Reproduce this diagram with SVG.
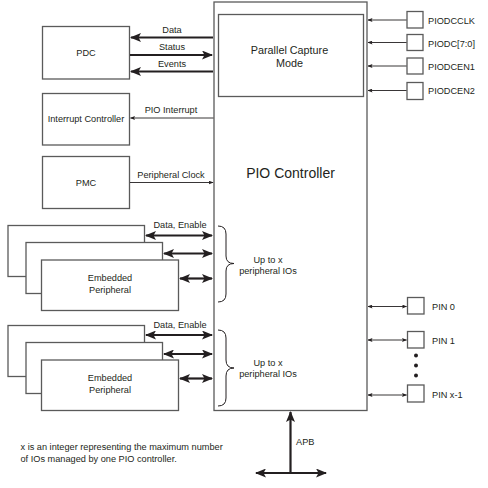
<svg xmlns="http://www.w3.org/2000/svg" width="488" height="488" viewBox="0 0 488 488">
<style>
.box{fill:#fff;stroke:#5a5a5a;stroke-width:1.3}
.t{font-family:"Liberation Sans",Arial,sans-serif;font-size:9.2px;fill:#231f20}
.c{text-anchor:middle}
.thick{stroke:#231f20;stroke-width:2.2;fill:none}
.thin{stroke:#231f20;stroke-width:0.9;fill:none}
.brace{stroke:#231f20;stroke-width:1;fill:none}
</style>
<defs>
<marker id="big" markerUnits="userSpaceOnUse" markerWidth="11" markerHeight="9" refX="10" refY="4.5" orient="auto-start-reverse">
<path d="M0,0 L11,4.5 L0,9 L2.5,4.5 z" fill="#231f20"/>
</marker>
<marker id="sm" markerUnits="userSpaceOnUse" markerWidth="5" markerHeight="4" refX="4.5" refY="2" orient="auto-start-reverse">
<path d="M0,0 L5,2 L0,4 L1,2 z" fill="#231f20"/>
</marker>
</defs>
<rect width="488" height="488" fill="#fff"/>

<g id="pio">
<rect class="box" x="214" y="2" width="153" height="408.5"/>
<text class="t c" x="290.5" y="178" style="font-size:14px">PIO Controller</text>
</g>
<g id="pcm">
<rect class="box" x="218.5" y="14.5" width="145" height="82"/>
<text class="t c" x="289.5" y="54" style="font-size:10.8px">Parallel Capture</text>
<text class="t c" x="289.5" y="67" style="font-size:10.8px">Mode</text>
</g>

<g id="pdc">
<rect class="box" x="42.5" y="26.5" width="87" height="52.5"/>
<text class="t c" x="86" y="56">PDC</text>
</g>
<g id="intc">
<rect class="box" x="42.5" y="93.5" width="87" height="51.5"/>
<text class="t c" x="86" y="122">Interrupt Controller</text>
</g>
<g id="pmc">
<rect class="box" x="42.5" y="156.5" width="87" height="52"/>
<text class="t c" x="86" y="186">PMC</text>
</g>

<g id="periph1">
<rect class="box" x="8" y="225.5" width="136.5" height="51"/>
<rect class="box" x="26" y="242.5" width="136.5" height="51"/>
<rect class="box" x="41.5" y="260" width="137" height="50.5"/>
<text class="t c" x="110" y="281">Embedded</text>
<text class="t c" x="110" y="292.5">Peripheral</text>
</g>
<g id="periph2">
<rect class="box" x="8" y="325.5" width="136.5" height="51"/>
<rect class="box" x="26" y="342.5" width="136.5" height="51"/>
<rect class="box" x="41.5" y="360" width="137" height="50.5"/>
<text class="t c" x="110" y="381">Embedded</text>
<text class="t c" x="110" y="392.5">Peripheral</text>
</g>

<g id="io1">
<path class="brace" d="M218,226 Q226,226 226,234 L226,256 Q226,263.5 234,263.5 Q226,263.5 226,271 L226,294 Q226,302 218,302"/>
<text class="t c" x="268" y="263">Up to x</text>
<text class="t c" x="268" y="274">peripheral IOs</text>
</g>
<g id="io2">
<path class="brace" d="M218,330 Q226,330 226,338 L226,360 Q226,368 234,368 Q226,368 226,376 L226,398 Q226,406 218,406"/>
<text class="t c" x="268" y="366">Up to x</text>
<text class="t c" x="268" y="377">peripheral IOs</text>
</g>

<g id="piodcclk"><rect class="box" x="407" y="11.5" width="16" height="16.5"/><text class="t" x="428" y="23.5">PIODCCLK</text></g>
<g id="piodc"><rect class="box" x="407" y="34.5" width="16" height="16"/><text class="t" x="428" y="46.5">PIODC[7:0]</text></g>
<g id="piodcen1"><rect class="box" x="407" y="58" width="16" height="16"/><text class="t" x="428" y="70">PIODCEN1</text></g>
<g id="piodcen2"><rect class="box" x="407" y="82.5" width="16" height="17"/><text class="t" x="428" y="94">PIODCEN2</text></g>

<g id="pin0"><rect class="box" x="407.5" y="297.5" width="16.5" height="16.5"/><text class="t" x="432" y="310">PIN 0</text></g>
<g id="pin1"><rect class="box" x="407.5" y="331.5" width="16.5" height="16.5"/><text class="t" x="432" y="344">PIN 1</text></g>
<g id="dots"><circle cx="416" cy="355.5" r="2" fill="#231f20"/><circle cx="416" cy="365.5" r="2" fill="#231f20"/><circle cx="416" cy="375.5" r="2" fill="#231f20"/></g>
<g id="pinx"><rect class="box" x="407.5" y="385" width="16.5" height="17"/><text class="t" x="432" y="398">PIN x-1</text></g>

<g id="note">
<text class="t" x="20.5" y="450">x is an integer representing the maximum number</text>
<text class="t" x="20.5" y="462">of IOs managed by one PIO controller.</text>
</g>

<g id="connectors">
<line class="thick" x1="213" y1="37.5" x2="131" y2="37.5" marker-end="url(#big)"/>
<text class="t c" x="172" y="33">Data</text>
<line class="thick" x1="130" y1="55" x2="212" y2="55" marker-end="url(#big)"/>
<text class="t c" x="172" y="50">Status</text>
<line class="thick" x1="213" y1="71.5" x2="131" y2="71.5" marker-end="url(#big)"/>
<text class="t c" x="172" y="67">Events</text>
<line class="thin" x1="213.5" y1="118" x2="130.5" y2="118" marker-end="url(#sm)"/>
<text class="t c" x="171" y="113">PIO Interrupt</text>
<line class="thin" x1="130" y1="182.5" x2="213" y2="182.5" marker-end="url(#sm)"/>
<text class="t c" x="171" y="178">Peripheral Clock</text>

<line class="thick" x1="146" y1="235.5" x2="212" y2="235.5" marker-start="url(#big)" marker-end="url(#big)"/>
<text class="t c" x="180" y="228">Data, Enable</text>
<line class="thick" x1="164" y1="253.5" x2="212" y2="253.5" marker-start="url(#big)" marker-end="url(#big)"/>
<line class="thick" x1="180" y1="278.5" x2="212" y2="278.5" marker-start="url(#big)" marker-end="url(#big)"/>

<line class="thick" x1="146" y1="335" x2="212" y2="335" marker-start="url(#big)" marker-end="url(#big)"/>
<text class="t c" x="180" y="328">Data, Enable</text>
<line class="thick" x1="164" y1="354" x2="212" y2="354" marker-start="url(#big)" marker-end="url(#big)"/>
<line class="thick" x1="180" y1="378.5" x2="212" y2="378.5" marker-start="url(#big)" marker-end="url(#big)"/>

<line class="thin" x1="406.5" y1="20" x2="368" y2="20" marker-end="url(#sm)"/>
<line class="thin" x1="406.5" y1="42.5" x2="368" y2="42.5" marker-end="url(#sm)"/>
<line class="thin" x1="406.5" y1="66" x2="368" y2="66" marker-end="url(#sm)"/>
<line class="thin" x1="406.5" y1="90.5" x2="368" y2="90.5" marker-end="url(#sm)"/>

<line class="thin" x1="368" y1="306.5" x2="406.5" y2="306.5" marker-start="url(#sm)" marker-end="url(#sm)"/>
<line class="thin" x1="368" y1="340" x2="406.5" y2="340" marker-start="url(#sm)" marker-end="url(#sm)"/>
<line class="thin" x1="368" y1="395" x2="406.5" y2="395" marker-start="url(#sm)" marker-end="url(#sm)"/>

<line class="thick" x1="290.5" y1="412" x2="290.5" y2="472" marker-start="url(#big)"/>
<line class="thick" x1="256" y1="473" x2="326" y2="473" marker-start="url(#big)" marker-end="url(#big)"/>
<text class="t" x="296" y="445">APB</text>
</g>
</svg>
